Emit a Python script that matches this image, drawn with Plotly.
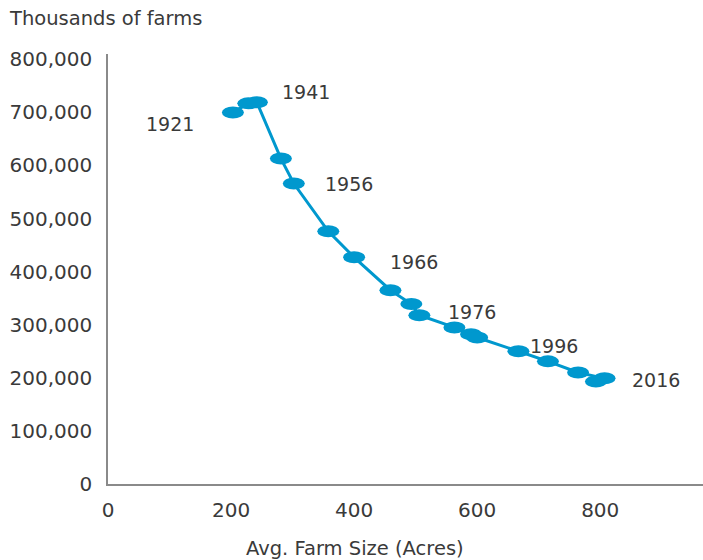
import plotly.graph_objects as go

# Census years, average farm size (acres) and number of farms
years = [1921, 1931, 1941, 1951, 1956, 1961, 1966, 1971, 1976,
         1981, 1986, 1991, 1996, 2001, 2006, 2011, 2016, 2021]
avg_size = [203, 228, 242, 281, 302, 358, 400, 459, 493,
            506, 563, 590, 600, 667, 715, 764, 807, 793]
farms = [700000, 717000, 719000, 613000, 566000, 476000, 427000, 365000, 339000,
         318000, 295000, 282000, 276000, 250000, 231000, 210000, 199000, 193000]

labelled_years = [1921, 1941, 1956, 1966, 1976, 1996, 2016]

x_ticks = [0, 200, 400, 600, 800]
y_ticks = [0, 100000, 200000, 300000, 400000, 500000, 600000, 700000, 800000]

BLUE = "rgb(0,152,206)"
TEXT = "#3a3a3a"
FONT = "DejaVu Sans"

# pixel offsets of each year label from its point (dx, dy, anchor)
label_offsets = {
    1921: (-37, -12, "right"),
    1941: (23, 10, "left"),
    1956: (29, 0, "left"),
    1966: (34, -5, "left"),
    1976: (35, -8, "left"),
    1996: (51, -9, "left"),
    2016: (25, -2, "left"),
}

X_MIN, X_MAX = 0, 967
Y_MAX = 810000
L, R, T, B = 108, 0, 54, 76
W, H = 703, 560
px_x = (W - L - R) / (X_MAX - X_MIN)
px_y = (H - T - B) / Y_MAX

fig = go.Figure()
fig.add_trace(go.Scatter(
    x=avg_size, y=farms, mode="lines",
    line=dict(color=BLUE, width=3),
    hoverinfo="skip", showlegend=False,
))
fig.add_trace(go.Scatter(
    x=avg_size, y=farms, mode="markers",
    marker=dict(color=BLUE, size=1, opacity=0),
    text=[str(y) for y in years], hoverinfo="text+x+y", showlegend=False,
))

# elliptical markers, 22 x 12 px
hw = 11 / px_x
hh = 6 / px_y
for xv, yv in zip(avg_size, farms):
    fig.add_shape(type="circle", xref="x", yref="y",
                  x0=xv - hw, x1=xv + hw, y0=yv - hh, y1=yv + hh,
                  fillcolor=BLUE, line=dict(width=0), layer="above")

for yr, xv, yv in zip(years, avg_size, farms):
    if yr in labelled_years:
        dx, dy, anchor = label_offsets[yr]
        fig.add_annotation(x=xv, y=yv, text=str(yr), showarrow=False,
                           xanchor=anchor, yanchor="middle",
                           xshift=dx, yshift=dy,
                           font=dict(family=FONT, size=19, color=TEXT))

# y-axis caption above the axis
fig.add_annotation(x=0, xref="paper", xanchor="left", xshift=-L + 7,
                   y=1, yref="paper", yanchor="middle", yshift=T - 18,
                   text="Thousands of farms", showarrow=False,
                   font=dict(family=FONT, size=19.5, color=TEXT))

# x-axis caption
fig.add_annotation(x=(355 - L) / (W - L - R), xref="paper", xanchor="center",
                   y=0, yref="paper", yanchor="middle", yshift=-64,
                   text="Avg. Farm Size (Acres)", showarrow=False,
                   font=dict(family=FONT, size=19.5, color=TEXT))

fig.update_layout(
    width=W, height=H,
    margin=dict(l=L, r=R, t=T, b=B, pad=0),
    plot_bgcolor="white", paper_bgcolor="white",
    font=dict(family=FONT, size=20, color=TEXT),
    xaxis=dict(
        range=[X_MIN, X_MAX], tickvals=x_ticks, showgrid=False, zeroline=False,
        showline=True, linecolor="#8a8a8a", linewidth=1.5,
        ticks="", ticklabelstandoff=7,
    ),
    yaxis=dict(
        range=[0, Y_MAX], tickvals=y_ticks, tickformat=",d",
        showgrid=False, zeroline=False,
        showline=True, linecolor="#8a8a8a", linewidth=1.5,
        ticks="", ticklabelstandoff=10,
    ),
)

fig.write_html("out.html")
